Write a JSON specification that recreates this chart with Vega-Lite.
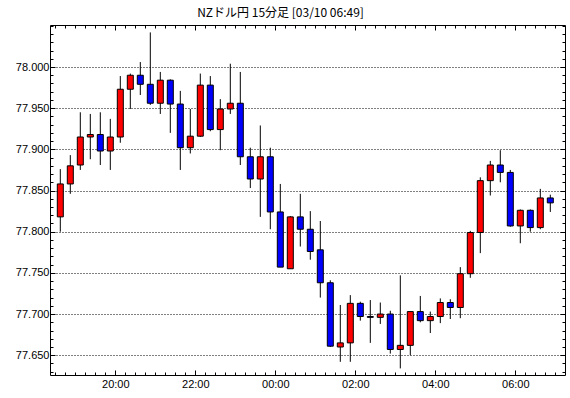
{
  "$schema": "https://vega.github.io/schema/vega-lite/v6.json",
  "autosize": "none",
  "width": 515,
  "height": 350,
  "padding": {"left": 50, "top": 25, "right": 5, "bottom": 23},
  "background": "white",
  "title": {
    "text": "NZドル円 15分足 [03/10 06:49]",
    "font": "Noto Sans CJK JP",
    "fontSize": 12,
    "fontWeight": "normal",
    "color": "black",
    "anchor": "middle",
    "frame": "group",
    "dx": -27,
    "offset": 5
  },
  "config": {
    "view": {"stroke": "black", "strokeWidth": 1},
    "axis": {
      "domain": false,
      "tickColor": "black",
      "tickWidth": 1,
      "labelColor": "black",
      "labelFont": "Liberation Sans",
      "labelFontSize": 11,
      "labelOverlap": false,
      "labelFlush": false
    }
  },
  "data": {
    "values": [
      {"t": "2025-01-09T18:37:30Z", "o": 77.818, "h": 77.876, "l": 77.800, "c": 77.858},
      {"t": "2025-01-09T18:52:30Z", "o": 77.858, "h": 77.893, "l": 77.846, "c": 77.880},
      {"t": "2025-01-09T19:07:30Z", "o": 77.881, "h": 77.945, "l": 77.875, "c": 77.915},
      {"t": "2025-01-09T19:22:30Z", "o": 77.915, "h": 77.943, "l": 77.888, "c": 77.918},
      {"t": "2025-01-09T19:37:30Z", "o": 77.918, "h": 77.945, "l": 77.881, "c": 77.898},
      {"t": "2025-01-09T19:52:30Z", "o": 77.898, "h": 77.937, "l": 77.875, "c": 77.915},
      {"t": "2025-01-09T20:07:30Z", "o": 77.915, "h": 77.989, "l": 77.908, "c": 77.973},
      {"t": "2025-01-09T20:22:30Z", "o": 77.973, "h": 77.992, "l": 77.949, "c": 77.990},
      {"t": "2025-01-09T20:37:30Z", "o": 77.990, "h": 78.006, "l": 77.966, "c": 77.979},
      {"t": "2025-01-09T20:52:30Z", "o": 77.979, "h": 78.042, "l": 77.954, "c": 77.956},
      {"t": "2025-01-09T21:07:30Z", "o": 77.956, "h": 77.994, "l": 77.943, "c": 77.984},
      {"t": "2025-01-09T21:22:30Z", "o": 77.984, "h": 77.985, "l": 77.920, "c": 77.955},
      {"t": "2025-01-09T21:37:30Z", "o": 77.955, "h": 77.971, "l": 77.875, "c": 77.902},
      {"t": "2025-01-09T21:52:30Z", "o": 77.902, "h": 77.949, "l": 77.895, "c": 77.916},
      {"t": "2025-01-09T22:07:30Z", "o": 77.916, "h": 77.992, "l": 77.915, "c": 77.978},
      {"t": "2025-01-09T22:22:30Z", "o": 77.978, "h": 77.989, "l": 77.922, "c": 77.924},
      {"t": "2025-01-09T22:37:30Z", "o": 77.924, "h": 77.961, "l": 77.899, "c": 77.949},
      {"t": "2025-01-09T22:52:30Z", "o": 77.949, "h": 78.004, "l": 77.943, "c": 77.956},
      {"t": "2025-01-09T23:07:30Z", "o": 77.956, "h": 77.994, "l": 77.881, "c": 77.891},
      {"t": "2025-01-09T23:22:30Z", "o": 77.891, "h": 77.902, "l": 77.853, "c": 77.864},
      {"t": "2025-01-09T23:37:30Z", "o": 77.864, "h": 77.929, "l": 77.818, "c": 77.891},
      {"t": "2025-01-09T23:52:30Z", "o": 77.891, "h": 77.902, "l": 77.803, "c": 77.824},
      {"t": "2025-01-10T00:07:30Z", "o": 77.824, "h": 77.858, "l": 77.757, "c": 77.757},
      {"t": "2025-01-10T00:22:30Z", "o": 77.755, "h": 77.819, "l": 77.755, "c": 77.818},
      {"t": "2025-01-10T00:37:30Z", "o": 77.818, "h": 77.846, "l": 77.782, "c": 77.803},
      {"t": "2025-01-10T00:52:30Z", "o": 77.803, "h": 77.825, "l": 77.766, "c": 77.776},
      {"t": "2025-01-10T01:07:30Z", "o": 77.778, "h": 77.813, "l": 77.720, "c": 77.738},
      {"t": "2025-01-10T01:22:30Z", "o": 77.738, "h": 77.741, "l": 77.660, "c": 77.661},
      {"t": "2025-01-10T01:37:30Z", "o": 77.660, "h": 77.711, "l": 77.642, "c": 77.665},
      {"t": "2025-01-10T01:52:30Z", "o": 77.665, "h": 77.723, "l": 77.642, "c": 77.713},
      {"t": "2025-01-10T02:07:30Z", "o": 77.713, "h": 77.715, "l": 77.692, "c": 77.697},
      {"t": "2025-01-10T02:22:30Z", "o": 77.697, "h": 77.717, "l": 77.665, "c": 77.696},
      {"t": "2025-01-10T02:37:30Z", "o": 77.696, "h": 77.714, "l": 77.688, "c": 77.700},
      {"t": "2025-01-10T02:52:30Z", "o": 77.700, "h": 77.704, "l": 77.652, "c": 77.657},
      {"t": "2025-01-10T03:07:30Z", "o": 77.657, "h": 77.747, "l": 77.634, "c": 77.662},
      {"t": "2025-01-10T03:22:30Z", "o": 77.662, "h": 77.703, "l": 77.650, "c": 77.703},
      {"t": "2025-01-10T03:37:30Z", "o": 77.703, "h": 77.722, "l": 77.690, "c": 77.692},
      {"t": "2025-01-10T03:52:30Z", "o": 77.692, "h": 77.703, "l": 77.677, "c": 77.697},
      {"t": "2025-01-10T04:07:30Z", "o": 77.697, "h": 77.719, "l": 77.689, "c": 77.714},
      {"t": "2025-01-10T04:22:30Z", "o": 77.714, "h": 77.718, "l": 77.694, "c": 77.708},
      {"t": "2025-01-10T04:37:30Z", "o": 77.708, "h": 77.757, "l": 77.695, "c": 77.749},
      {"t": "2025-01-10T04:52:30Z", "o": 77.749, "h": 77.801, "l": 77.744, "c": 77.799},
      {"t": "2025-01-10T05:07:30Z", "o": 77.799, "h": 77.866, "l": 77.774, "c": 77.862},
      {"t": "2025-01-10T05:22:30Z", "o": 77.862, "h": 77.886, "l": 77.844, "c": 77.881},
      {"t": "2025-01-10T05:37:30Z", "o": 77.881, "h": 77.899, "l": 77.860, "c": 77.872},
      {"t": "2025-01-10T05:52:30Z", "o": 77.872, "h": 77.875, "l": 77.806, "c": 77.807},
      {"t": "2025-01-10T06:07:30Z", "o": 77.807, "h": 77.827, "l": 77.786, "c": 77.826},
      {"t": "2025-01-10T06:22:30Z", "o": 77.826, "h": 77.827, "l": 77.800, "c": 77.805},
      {"t": "2025-01-10T06:37:30Z", "o": 77.805, "h": 77.852, "l": 77.803, "c": 77.841},
      {"t": "2025-01-10T06:52:30Z", "o": 77.841, "h": 77.845, "l": 77.824, "c": 77.835}
    ]
  },
  "resolve": {"axis": {"x": "independent", "y": "independent"}},
  "layer": [
    {
      "mark": {"type": "rule", "strokeOpacity": 0},
      "encoding": {
        "x": {
          "field": "t",
          "type": "temporal",
          "title": null,
          "scale": {
            "type": "utc",
            "domain": [1736446923000, 1736493273000],
            "nice": false,
            "padding": 0
          },
          "axis": {
            "orient": "bottom",
            "grid": false,
            "values": [1736452800000, 1736460000000, 1736467200000, 1736474400000, 1736481600000, 1736488800000],
            "format": "%H:%M",
            "tickSize": -5,
            "labelPadding": 8
          }
        },
        "y": {
          "field": "l",
          "type": "quantitative",
          "title": null,
          "scale": {"domain": [77.626, 78.051], "nice": false, "zero": false, "padding": 0},
          "axis": {
            "orient": "left",
            "values": [77.65, 77.7, 77.75, 77.8, 77.85, 77.9, 77.95, 78.0],
            "format": ".3f",
            "tickSize": -5,
            "labelPadding": 6,
            "grid": true,
            "gridColor": "black",
            "gridDash": [1, 2],
            "gridWidth": 1
          }
        },
        "y2": {"field": "h"}
      }
    },
    {
      "mark": {"type": "rule", "strokeOpacity": 0},
      "encoding": {
        "x": {
          "field": "t",
          "type": "temporal",
          "title": null,
          "axis": {
            "orient": "bottom",
            "grid": false,
            "labels": false,
            "values": [1736447400000, 1736448300000, 1736449200000, 1736450100000, 1736451000000, 1736451900000, 1736452800000, 1736453700000, 1736454600000, 1736455500000, 1736456400000, 1736457300000, 1736458200000, 1736459100000, 1736460000000, 1736460900000, 1736461800000, 1736462700000, 1736463600000, 1736464500000, 1736465400000, 1736466300000, 1736467200000, 1736468100000, 1736469000000, 1736469900000, 1736470800000, 1736471700000, 1736472600000, 1736473500000, 1736474400000, 1736475300000, 1736476200000, 1736477100000, 1736478000000, 1736478900000, 1736479800000, 1736480700000, 1736481600000, 1736482500000, 1736483400000, 1736484300000, 1736485200000, 1736486100000, 1736487000000, 1736487900000, 1736488800000, 1736489700000, 1736490600000, 1736491500000, 1736492400000],
            "tickSize": -3
          }
        },
        "y": {
          "field": "l",
          "type": "quantitative",
          "title": null,
          "axis": {
            "orient": "left",
            "grid": false,
            "labels": false,
            "values": [77.63, 77.64, 77.65, 77.66, 77.67, 77.68, 77.69, 77.7, 77.71, 77.72, 77.73, 77.74, 77.75, 77.76, 77.77, 77.78, 77.79, 77.8, 77.81, 77.82, 77.83, 77.84, 77.85, 77.86, 77.87, 77.88, 77.89, 77.9, 77.91, 77.92, 77.93, 77.94, 77.95, 77.96, 77.97, 77.98, 77.99, 78.0, 78.01, 78.02, 78.03, 78.04, 78.05],
            "tickSize": -3
          }
        },
        "y2": {"field": "h"}
      }
    },
    {
      "mark": {"type": "rule", "color": "black", "strokeWidth": 1},
      "encoding": {
        "x": {
          "field": "t",
          "type": "temporal",
          "title": null,
          "axis": {
            "orient": "top",
            "grid": false,
            "labels": false,
            "values": [1736452800000, 1736460000000, 1736467200000, 1736474400000, 1736481600000, 1736488800000],
            "tickSize": -5
          }
        },
        "y": {
          "field": "l",
          "type": "quantitative",
          "title": null,
          "axis": {
            "orient": "right",
            "grid": false,
            "labels": false,
            "values": [77.65, 77.7, 77.75, 77.8, 77.85, 77.9, 77.95, 78.0],
            "tickSize": -5
          }
        },
        "y2": {"field": "h"}
      }
    },
    {
      "mark": {"type": "bar", "size": 6, "stroke": "black", "strokeWidth": 1},
      "encoding": {
        "x": {
          "field": "t",
          "type": "temporal",
          "title": null,
          "axis": {
            "orient": "top",
            "grid": false,
            "labels": false,
            "values": [1736447400000, 1736448300000, 1736449200000, 1736450100000, 1736451000000, 1736451900000, 1736452800000, 1736453700000, 1736454600000, 1736455500000, 1736456400000, 1736457300000, 1736458200000, 1736459100000, 1736460000000, 1736460900000, 1736461800000, 1736462700000, 1736463600000, 1736464500000, 1736465400000, 1736466300000, 1736467200000, 1736468100000, 1736469000000, 1736469900000, 1736470800000, 1736471700000, 1736472600000, 1736473500000, 1736474400000, 1736475300000, 1736476200000, 1736477100000, 1736478000000, 1736478900000, 1736479800000, 1736480700000, 1736481600000, 1736482500000, 1736483400000, 1736484300000, 1736485200000, 1736486100000, 1736487000000, 1736487900000, 1736488800000, 1736489700000, 1736490600000, 1736491500000, 1736492400000],
            "tickSize": -3
          }
        },
        "y": {
          "field": "o",
          "type": "quantitative",
          "title": null,
          "axis": {
            "orient": "right",
            "labels": false,
            "grid": false,
            "values": [77.63, 77.64, 77.65, 77.66, 77.67, 77.68, 77.69, 77.7, 77.71, 77.72, 77.73, 77.74, 77.75, 77.76, 77.77, 77.78, 77.79, 77.8, 77.81, 77.82, 77.83, 77.84, 77.85, 77.86, 77.87, 77.88, 77.89, 77.9, 77.91, 77.92, 77.93, 77.94, 77.95, 77.96, 77.97, 77.98, 77.99, 78.0, 78.01, 78.02, 78.03, 78.04, 78.05],
            "tickSize": -3
          }
        },
        "y2": {"field": "c"},
        "fill": {"condition": {"test": "datum.c >= datum.o", "value": "#ff0000"}, "value": "#0000ff"}
      }
    }
  ]
}
